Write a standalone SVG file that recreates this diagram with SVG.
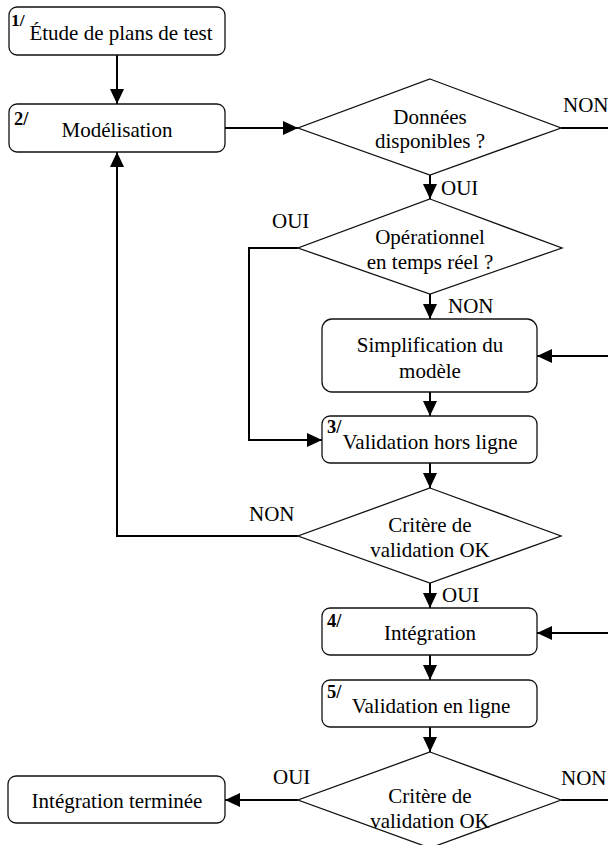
<svg xmlns="http://www.w3.org/2000/svg" width="608" height="845" viewBox="0 0 608 845" font-family="'Liberation Serif', 'Times New Roman', 'DejaVu Serif', serif">
<defs>
<marker id="arr" markerUnits="userSpaceOnUse" markerWidth="16" markerHeight="14" refX="15" refY="7" orient="auto">
<path d="M0,0 L15,7 L0,14 z" fill="#000"/>
</marker>
<style>
.box{fill:#fff;stroke:#111;stroke-width:1.3}
.dia{fill:#fff;stroke:#111;stroke-width:1.3}
.t{font-size:21px;fill:#000}
.c{text-anchor:middle}
.n{font-size:18.5px;font-weight:bold;fill:#000}
.ln{fill:none;stroke:#000;stroke-width:2}
.a{marker-end:url(#arr)}
</style>
</defs>
<rect width="608" height="845" fill="#fff"/>
<g id="connectors">
<line class="ln a" x1="117" y1="55" x2="117" y2="104"/>
<line class="ln a" x1="225" y1="128" x2="298" y2="128"/>
<line class="ln" x1="561" y1="128" x2="608" y2="128"/>
<line class="ln a" x1="430" y1="175" x2="430" y2="199"/>
<polyline class="ln a" points="298,248 249,248 249,440 322,440"/>
<line class="ln a" x1="430" y1="294" x2="430" y2="319"/>
<line class="ln a" x1="608" y1="356" x2="537" y2="356"/>
<line class="ln a" x1="430" y1="392" x2="430" y2="416"/>
<line class="ln a" x1="430" y1="463" x2="430" y2="488"/>
<polyline class="ln a" points="298,536 117,536 117,152"/>
<line class="ln a" x1="430" y1="583" x2="430" y2="608"/>
<line class="ln a" x1="608" y1="633" x2="537" y2="633"/>
<line class="ln a" x1="430" y1="655" x2="430" y2="680"/>
<line class="ln a" x1="430" y1="727" x2="430" y2="752"/>
<line class="ln a" x1="298" y1="800" x2="225" y2="800"/>
<line class="ln" x1="561" y1="800" x2="608" y2="800"/>
<text class="t" x="563" y="112">NON</text>
<text class="t" x="441" y="195">OUI</text>
<text class="t" x="272" y="228">OUI</text>
<text class="t" x="448" y="313">NON</text>
<text class="t" x="249" y="521">NON</text>
<text class="t" x="442" y="602">OUI</text>
<text class="t" x="273" y="784">OUI</text>
<text class="t" x="561" y="785">NON</text>
</g>
<g id="n1">
<rect class="box" x="9" y="7" width="216" height="48" rx="8"/>
<text class="n" x="11" y="26" style="font-size:17.5px">1/</text>
<text class="t c" x="121" y="40">Étude de plans de test</text>
</g>
<g id="n2">
<rect class="box" x="9" y="104" width="216" height="48" rx="8"/>
<text class="n" x="14" y="125">2/</text>
<text class="t c" x="117" y="137">Modélisation</text>
</g>
<g id="d1">
<polygon class="dia" points="430,79 561,128 430,175 298,128"/>
<text class="t c" x="430" y="124">Données</text>
<text class="t c" x="430" y="148">disponibles ?</text>
</g>
<g id="d2">
<polygon class="dia" points="430,199 562,248 430,294 298,248"/>
<text class="t c" x="430" y="244">Opérationnel</text>
<text class="t c" x="430" y="269">en temps réel ?</text>
</g>
<g id="simp">
<rect class="box" x="322" y="319" width="215" height="73" rx="10"/>
<text class="t c" x="430" y="352">Simplification du</text>
<text class="t c" x="430" y="378">modèle</text>
</g>
<g id="n3">
<rect class="box" x="322" y="416" width="215" height="47" rx="8"/>
<text class="n" x="327" y="433">3/</text>
<text class="t c" x="430" y="449">Validation hors ligne</text>
</g>
<g id="d3">
<polygon class="dia" points="430,488 561,536 430,583 298,536"/>
<text class="t c" x="430" y="532">Critère de</text>
<text class="t c" x="430" y="557">validation OK</text>
</g>
<g id="n4">
<rect class="box" x="322" y="608" width="215" height="47" rx="8"/>
<text class="n" x="327" y="627">4/</text>
<text class="t c" x="430" y="640">Intégration</text>
</g>
<g id="n5">
<rect class="box" x="322" y="680" width="215" height="47" rx="8"/>
<text class="n" x="327" y="698">5/</text>
<text class="t c" x="431" y="713">Validation en ligne</text>
</g>
<g id="d4">
<polygon class="dia" points="430,752 561,800 430,848 298,800"/>
<text class="t c" x="430" y="803">Critère de</text>
<text class="t c" x="430" y="828">validation OK</text>
</g>
<g id="end">
<rect class="box" x="8" y="776" width="217" height="47" rx="8"/>
<text class="t c" x="117" y="808">Intégration terminée</text>
</g>
</svg>
